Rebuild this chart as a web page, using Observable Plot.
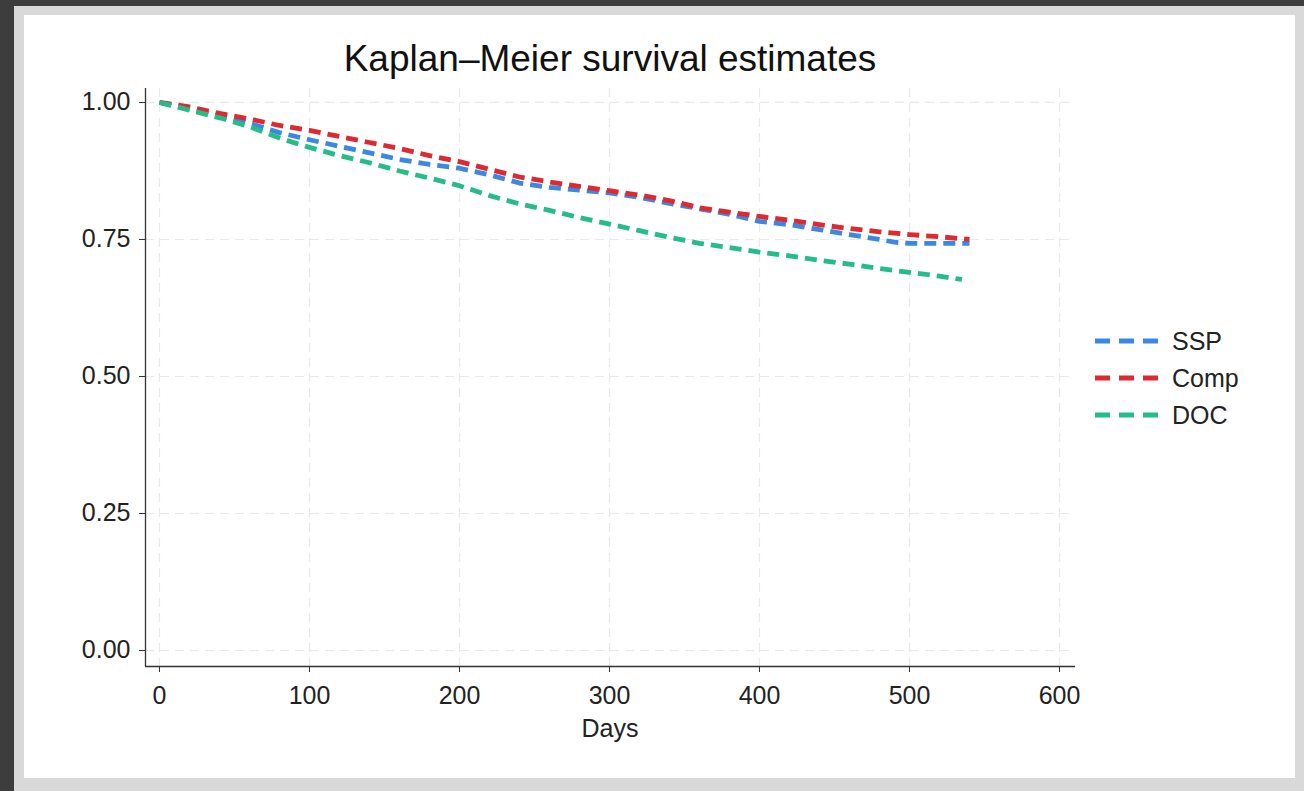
<!DOCTYPE html>
<html>
<head>
<meta charset="utf-8">
<script src="https://cdn.jsdelivr.net/npm/d3@7"></script>
<script src="https://cdn.jsdelivr.net/npm/@observablehq/plot@0.6"></script>
<style>
  html, body { margin: 0; padding: 0; }
  body { width: 1304px; height: 791px; background: #3d3d3d; position: relative; overflow: hidden;
         font-family: "Liberation Sans", Arial, Helvetica, sans-serif; }
  #frame { position: absolute; left: 14px; top: 6px; width: 1290px; height: 785px; background: #d9d9d9; }
  #panel { position: absolute; left: 24px; top: 15px; width: 1271px; height: 763px; background: #ffffff; }
  #chart { position: absolute; left: 0; top: 0; }
  #title { position: absolute; left: 145px; width: 930px; top: 38px; text-align: center;
           font-size: 37px; color: #111; white-space: nowrap; }
  #xlabel { position: absolute; left: 145px; width: 930px; top: 714px; text-align: center;
            font-size: 25px; color: #222; }
  #legend { position: absolute; left: 1090px; top: 320px; }
</style>
</head>
<body>
<div id="frame"></div>
<div id="panel"></div>
<div id="chart"></div>
<div id="title">Kaplan–Meier survival estimates</div>
<div id="xlabel">Days</div>
<div id="legend"></div>
<script>
// ---- data ----
const seriesNames = ["SSP", "Comp", "DOC"];
const seriesColors = ["#3a88e2", "#dc2a30", "#24bd8a"];

const sspDays = [0, 20, 40, 60, 80, 100, 120, 140, 160, 180, 200, 220, 240, 260, 280, 300, 320, 340, 360, 380, 400, 420, 440, 460, 480, 490, 500, 520, 540];
const sspSurv = [1.000, 0.988, 0.975, 0.962, 0.945, 0.932, 0.920, 0.908, 0.896, 0.887, 0.880, 0.868, 0.853, 0.845, 0.840, 0.835, 0.827, 0.816, 0.806, 0.796, 0.783, 0.777, 0.768, 0.759, 0.750, 0.745, 0.743, 0.743, 0.743];

const compDays = [0, 20, 40, 60, 80, 100, 120, 140, 160, 180, 200, 220, 240, 260, 280, 300, 320, 340, 360, 380, 400, 420, 440, 460, 480, 500, 520, 540];
const compSurv = [1.000, 0.992, 0.980, 0.970, 0.958, 0.949, 0.938, 0.927, 0.916, 0.903, 0.892, 0.878, 0.864, 0.855, 0.847, 0.839, 0.831, 0.821, 0.808, 0.800, 0.792, 0.785, 0.777, 0.770, 0.764, 0.759, 0.755, 0.750];

const docDays = [0, 20, 40, 60, 80, 100, 120, 140, 160, 180, 200, 220, 240, 260, 280, 300, 320, 340, 360, 380, 400, 420, 440, 460, 480, 500, 520, 535];
const docSurv = [1.000, 0.986, 0.972, 0.956, 0.935, 0.918, 0.903, 0.890, 0.875, 0.862, 0.848, 0.830, 0.815, 0.803, 0.790, 0.778, 0.766, 0.754, 0.743, 0.735, 0.727, 0.720, 0.712, 0.705, 0.697, 0.690, 0.683, 0.677];

const xTicks = [0, 100, 200, 300, 400, 500, 600];
const yTicks = [0, 0.25, 0.5, 0.75, 1];

// ---- build table ----
const rows = [];
[[sspDays, sspSurv], [compDays, compSurv], [docDays, docSurv]].forEach(([d, s], i) => {
  d.forEach((day, j) => rows.push({group: seriesNames[i], day, surv: s[j]}));
});

const font = '"Liberation Sans", Arial, Helvetica, sans-serif';
const chart = Plot.plot({
  width: 1304,
  height: 791,
  marginLeft: 145,
  marginRight: 229,
  marginTop: 88,
  marginBottom: 125,
  style: {background: "transparent", fontFamily: font, fontSize: "25px", color: "#222", overflow: "visible"},
  x: {domain: [-9.33, 610.67], ticks: xTicks},
  y: {domain: [-0.0292, 1.0255], ticks: yTicks},
  color: {domain: seriesNames, range: seriesColors},
  marks: [
    Plot.gridX(xTicks, {stroke: "#e9e9e9", strokeOpacity: 1, strokeWidth: 1.2, strokeDasharray: "9,6"}),
    Plot.gridY(yTicks, {stroke: "#e9e9e9", strokeOpacity: 1, strokeWidth: 1.2, strokeDasharray: "9,6"}),
    Plot.axisY(yTicks, {tickSize: 6, tickPadding: 9, tickFormat: d3.format(".2f"), label: null,
                         stroke: "#333", fill: "#222", fontSize: 25}),
    Plot.axisX(xTicks, {tickSize: 6, tickPadding: 14, tickFormat: d3.format("d"), label: null,
                         stroke: "#333", fill: "#222", fontSize: 25}),
    Plot.ruleX([-9.33], {stroke: "#333", strokeWidth: 1.3}),
    Plot.ruleY([-0.0292], {stroke: "#333", strokeWidth: 1.3}),
    Plot.line(rows, {x: "day", y: "surv", z: "group", stroke: "group", curve: "linear",
                     strokeWidth: 4.8, strokeDasharray: "12,7", strokeLinecap: "butt"})
  ]
});
document.getElementById("chart").appendChild(chart);

// ---- legend ----
const ns = "http://www.w3.org/2000/svg";
const lg = document.createElementNS(ns, "svg");
lg.setAttribute("width", 180);
lg.setAttribute("height", 120);
seriesNames.forEach((name, i) => {
  const cy = 21 + i * 37;
  const ln = document.createElementNS(ns, "line");
  ln.setAttribute("x1", 5); ln.setAttribute("x2", 68);
  ln.setAttribute("y1", cy); ln.setAttribute("y2", cy);
  ln.setAttribute("stroke", seriesColors[i]);
  ln.setAttribute("stroke-width", 4.8);
  ln.setAttribute("stroke-dasharray", "15,9");
  lg.appendChild(ln);
  const tx = document.createElementNS(ns, "text");
  tx.setAttribute("x", 82); tx.setAttribute("y", cy);
  tx.setAttribute("dy", "0.35em");
  tx.setAttribute("font-family", font);
  tx.setAttribute("font-size", 25);
  tx.setAttribute("fill", "#222");
  tx.textContent = name;
  lg.appendChild(tx);
});
document.getElementById("legend").appendChild(lg);
</script>
</body>
</html>
